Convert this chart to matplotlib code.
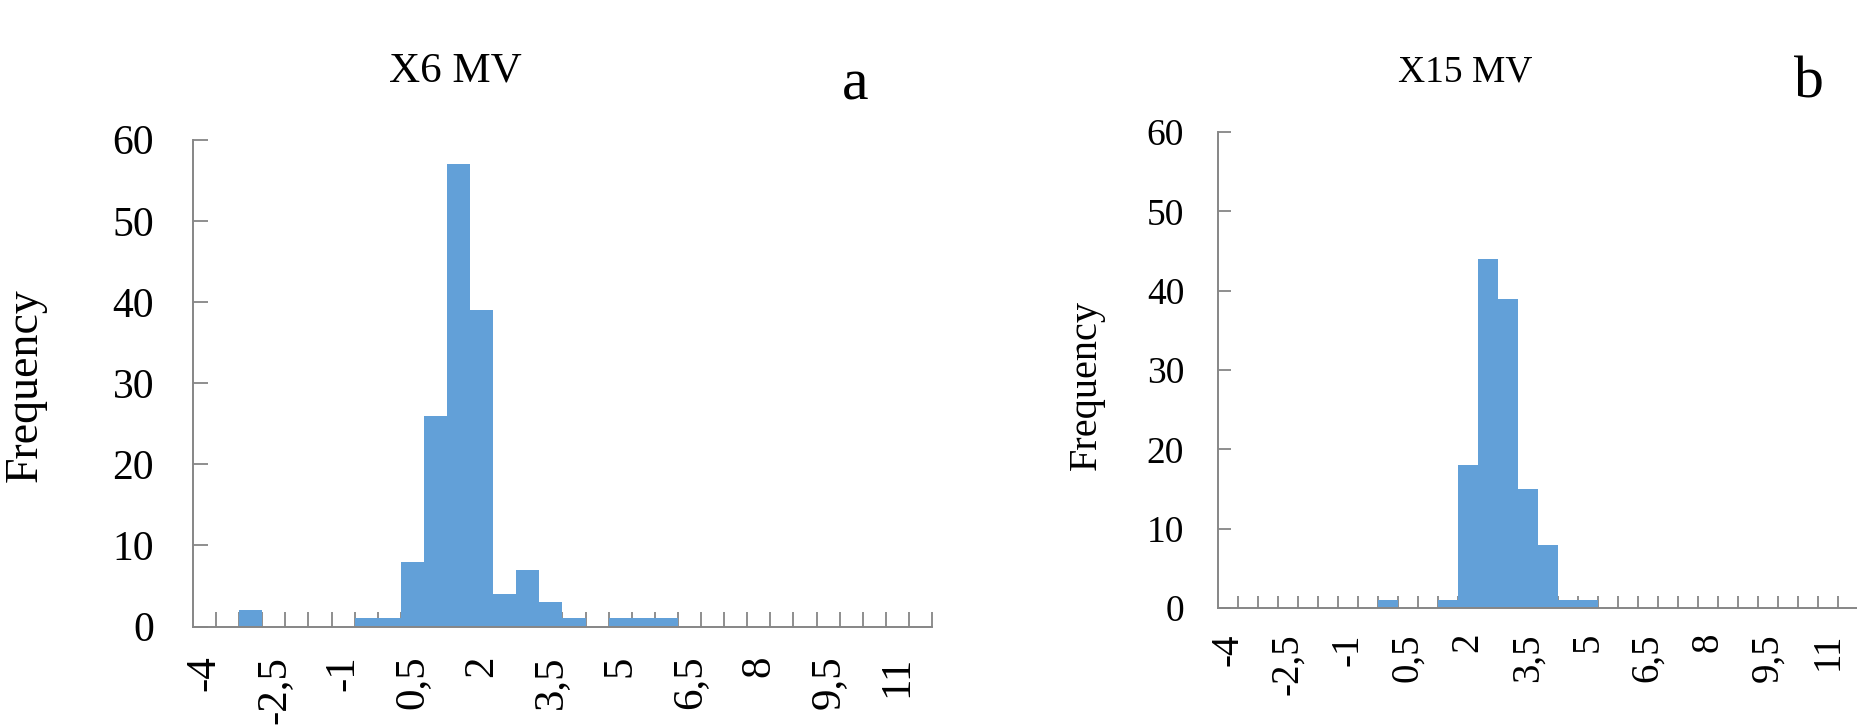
import matplotlib
matplotlib.use("Agg")
import matplotlib.pyplot as plt

plt.rcParams['font.family'] = ['Liberation Serif', 'DejaVu Serif']

categories = [-4, -3.5, -3, -2.5, -2, -1.5, -1, -0.5, 0, 0.5, 1, 1.5, 2, 2.5, 3, 3.5,
              4, 4.5, 5, 5.5, 6, 6.5, 7, 7.5, 8, 8.5, 9, 9.5, 10, 10.5, 11, 11.5]
x6_counts = [0, 0, 2, 0, 0, 0, 0, 1, 1, 8, 26, 57, 39, 4, 7, 3,
             1, 0, 1, 1, 1, 0, 0, 0, 0, 0, 0, 0, 0, 0, 0, 0]
x15_counts = [0, 0, 0, 0, 0, 0, 0, 0, 1, 0, 0, 1, 18, 44, 39, 15,
              8, 1, 1, 0, 0, 0, 0, 0, 0, 0, 0, 0, 0, 0, 0, 0]
shown_labels = ["-4", "-2,5", "-1", "0,5", "2", "3,5", "5", "6,5", "8", "9,5", "11"]
y_ticks = [0, 10, 20, 30, 40, 50, 60]

bar_color = "#62A0D8"
axis_color = "#868686"

fig = plt.figure(figsize=(18.58, 7.25), dpi=100)

W, H = 1858.0, 725.0


def draw_panel(rect, counts, title, letter, title_xy, letter_xy, ylab_xy,
               fs_tick, fs_xtick, fs_title, fs_ylab, xpad, ypad, tlen):
    ax = fig.add_axes(rect)
    pos = list(range(len(categories)))
    ax.bar(pos, counts, width=1.0, color=bar_color, linewidth=0, zorder=2)
    ax.set_xlim(-0.5, len(categories) - 0.5)
    ax.set_ylim(0, 60)

    # tick marks between the categories, labels on every third category
    ax.set_xticks([p + 0.5 for p in pos])
    ax.set_xticklabels([])
    lab_pos = [pos[i] for i in range(len(categories)) if i % 3 == 0]
    ax.set_xticks(lab_pos, minor=True)
    ax.set_xticklabels(shown_labels, minor=True, rotation=90, fontsize=fs_xtick)
    ax.tick_params(axis='x', which='major', direction='in', length=tlen,
                   width=1.3, color=axis_color)
    ax.tick_params(axis='x', which='minor', length=0, pad=xpad)

    ax.set_yticks(y_ticks)
    ax.set_yticklabels([str(v) for v in y_ticks], fontsize=fs_tick)
    ax.tick_params(axis='y', direction='in', length=tlen, width=1.3,
                   color=axis_color, pad=ypad)

    for s in ['top', 'right']:
        ax.spines[s].set_visible(False)
    for s in ['left', 'bottom']:
        ax.spines[s].set_color(axis_color)
        ax.spines[s].set_linewidth(1.4)
    ax.set_axisbelow(True)

    fig.text(title_xy[0] / W, 1 - title_xy[1] / H, title, ha='center',
             va='baseline', fontsize=fs_title)
    fig.text(letter_xy[0] / W, 1 - letter_xy[1] / H, letter, ha='center',
             va='baseline', fontsize=43)
    fig.text(ylab_xy[0] / W, 1 - ylab_xy[1] / H, "Frequency", rotation=90,
             ha='center', va='center', fontsize=fs_ylab)
    return ax


# panel a
draw_panel([193 / W, 1 - 626.5 / H, (932 - 193) / W, (626.5 - 139.6) / H],
           x6_counts, "X6 MV", "a", (455, 82), (855, 99), (25, 385),
           30, 31, 31, 33, 21, 28, 10.5)

# panel b
draw_panel([1217.5 / W, 1 - 608 / H, (1858 - 1217.5) / W, (608 - 132) / H],
           x15_counts, "X15 MV", "b", (1465, 81), (1809, 97), (1086, 385),
           27, 28, 27, 29, 18, 24, 9)

fig.savefig("out.png", dpi=100)
